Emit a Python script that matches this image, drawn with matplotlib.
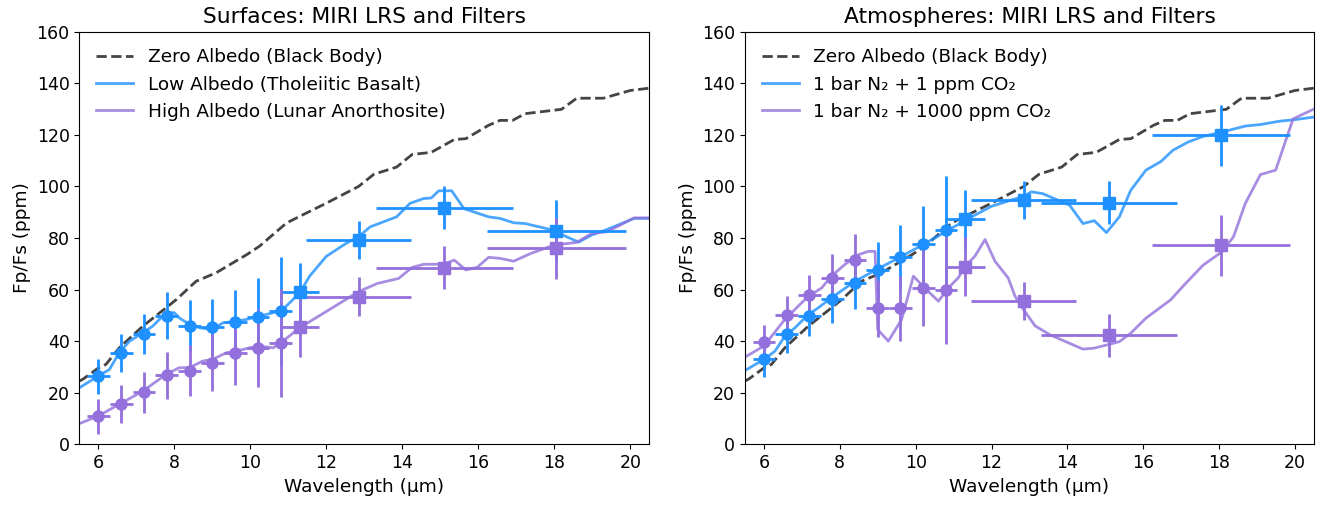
"""Surfaces vs atmospheres: simulated MIRI LRS + filter photometry of a rocky planet."""
import numpy as np
import matplotlib
matplotlib.use("Agg")
import matplotlib.pyplot as plt

# ---- model curves ----
bb_wl = [5.5, 5.6, 6.0, 6.2, 6.55, 7.17, 7.78, 8.05, 8.57, 9.1, 9.9, 10.24, 10.95, 11.3,
         12.0, 12.85, 13.25, 13.85, 14.26, 14.76, 15.37, 15.67, 16.27, 16.57, 16.9,
         17.23, 18.19, 18.59, 19.29, 20.0, 20.5]
bb_fp = [24.5, 25.3, 29.6, 31.0, 37.4, 45.8, 52.9, 56.1, 63.2, 66.5, 73.5, 76.8, 85.8, 88.4,
         93.5, 100.0, 104.7, 107.5, 112.4, 113.2, 118.2, 118.5, 123.7, 125.6, 125.6,
         128.2, 129.9, 134.2, 134.2, 137.2, 138.1]

low_wl = [5.5, 6.0, 6.29, 6.55, 6.82, 7.17, 7.43, 7.78, 8.0, 8.13, 8.4, 8.66, 9.0, 9.28,
          9.63, 9.89, 10.24, 10.6, 10.86, 11.12, 11.3, 11.56, 12.0, 12.53, 12.85, 13.15,
          13.85, 14.2, 14.56, 14.76, 14.96, 15.3, 15.62, 16.27, 16.57, 16.93, 17.23, 17.98,
          18.29, 18.64, 18.99, 19.39, 20.1, 20.5]
low_fp = [21.9, 26.5, 29.0, 35.5, 40.0, 43.2, 45.8, 51.0, 51.0, 49.0, 46.5, 45.2, 44.5, 47.1,
          47.7, 48.4, 49.7, 51.0, 52.3, 56.1, 58.7, 65.2, 72.9, 78.0, 80.5, 84.3,
          88.2, 93.4, 95.3, 95.5, 98.3, 98.3, 91.4, 88.2, 87.6, 85.9, 85.6, 83.0,
          80.7, 78.4, 81.2, 83.3, 87.6, 87.6]

high_wl = [5.5, 6.0, 6.55, 7.17, 7.78, 8.13, 8.4, 8.75, 9.0, 9.37, 9.63, 9.98, 10.24, 10.6,
           10.86, 11.3, 12.0, 12.85, 13.35, 13.9, 14.26, 14.56, 15.06, 15.37, 15.67, 15.97,
           16.27, 16.57, 16.93, 17.38, 17.98, 18.59, 18.99, 19.39, 20.1, 20.5]
high_fp = [8.0, 11.0, 15.5, 20.6, 27.1, 29.7, 29.7, 32.3, 32.9, 35.5, 36.1, 37.4, 38.1, 37.4,
           40.0, 45.2, 51.5, 59.2, 62.4, 64.3, 68.6, 69.8, 69.8, 71.4, 67.6, 68.6,
           72.5, 72.1, 71.0, 74.0, 77.2, 78.3, 81.8, 82.4, 87.8, 87.8]

ppm1_wl = [5.5, 6.0, 6.29, 6.55, 6.82, 7.17, 7.43, 7.78, 8.4, 9.0, 9.63, 10.24, 10.86, 11.3,
           12.0, 12.85, 13.05, 13.35, 13.65, 14.06, 14.41, 14.71, 15.03, 15.37, 15.67,
           16.07, 16.47, 16.78, 17.18, 17.58, 18.08, 18.69, 19.09, 19.6, 20.0, 20.5]
ppm1_fp = [28.6, 32.9, 36.1, 41.9, 45.2, 50.3, 52.9, 56.8, 63.2, 68.0, 72.9, 77.8, 83.0, 86.8,
           92.3, 96.2, 97.9, 97.2, 95.3, 92.7, 85.6, 86.7, 82.1, 88.2, 98.5,
           106.3, 109.7, 114.0, 117.2, 119.4, 121.1, 123.4, 124.0, 125.3, 125.9, 126.9]

ppm1000_wl = [5.5, 6.0, 6.55, 6.9, 7.17, 7.52, 7.78, 8.13, 8.49, 8.75, 8.93, 9.0, 9.28, 9.63,
              9.94, 10.24, 10.6, 10.86, 11.12, 11.3, 11.56, 11.83, 12.09, 12.44, 12.62,
              12.85, 13.15, 13.55, 14.41, 14.71, 15.06, 15.37, 15.67, 16.07, 16.72, 17.08,
              17.58, 18.08, 18.38, 18.69, 19.09, 19.49, 19.95, 20.5]
ppm1000_fp = [33.8, 38.1, 48.4, 53.5, 57.4, 60.6, 65.2, 69.7, 73.5, 74.8, 74.8, 44.5, 40.0, 48.4,
              65.2, 60.6, 55.5, 60.6, 64.5, 69.0, 72.9, 79.4, 71.0, 64.5, 57.4,
              52.1, 45.9, 42.4, 36.9, 37.3, 38.6, 39.8, 43.1, 48.9, 56.0, 61.8,
              69.5, 74.7, 80.5, 93.4, 104.6, 106.3, 126.2, 130.0]

# ---- simulated observations ----
lrs_wl = [6.0, 6.6, 7.2, 7.8, 8.4, 9.0, 9.6, 10.2, 10.8]
lrs_hw = 0.3
filt_wl = [11.3, 12.85, 15.1, 18.05]
filt_hw = [0.52, 1.38, 1.8, 1.83]

low_lrs = [26.3, 35.3, 42.8, 49.9, 46.0, 45.4, 47.3, 49.3, 51.8]
low_filt = [58.9, 79.2, 91.8, 82.8]
high_lrs = [10.8, 15.6, 20.2, 26.7, 28.6, 31.7, 35.3, 37.3, 39.2]
high_filt = [45.4, 57.3, 68.5, 76.0]
ppm1_lrs = [33.0, 42.8, 49.9, 56.2, 62.4, 67.6, 72.7, 77.5, 83.0]
ppm1_filt = [87.3, 94.6, 93.7, 119.8]
ppm1000_lrs = [39.5, 50.2, 57.9, 64.6, 71.4, 52.7, 52.7, 60.7, 59.8]
ppm1000_filt = [68.9, 55.7, 42.2, 77.2]

lrs_err = [6.9, 7.3, 7.9, 9.0, 10.0, 11.0, 12.5, 15.0, 21.0]
filt_err = [11.5, 7.4, 8.4, 11.8]

BLUE = "#1e90ff"
PURPLE = "#9370db"


def draw_panel(ax, curves, obs, title):
    ax.plot(bb_wl, bb_fp, "--", color="#444444", lw=2, label="Zero Albedo (Black Body)")
    for (wl, fp, color, label) in curves:
        ax.plot(wl, fp, "-", color=color, lw=2, alpha=0.8, label=label)
    for (lrs, filt, color) in obs:
        ax.errorbar(lrs_wl, lrs, xerr=lrs_hw, yerr=lrs_err, fmt="o", color=color,
                    ms=8, elinewidth=2, capsize=0)
        ax.errorbar(filt_wl, filt, xerr=filt_hw, yerr=filt_err, fmt="s", color=color,
                    ms=9, elinewidth=2, capsize=0)
    ax.set_xlim(5.5, 20.5)
    ax.set_ylim(0, 160)
    ax.set_xlabel("Wavelength (μm)", fontsize=13.3)
    ax.set_ylabel("Fp/Fs (ppm)", fontsize=13.3)
    ax.set_title(title, fontsize=15.7)
    ax.tick_params(labelsize=12.5)
    ax.legend(loc="upper left", frameon=False, fontsize=13.3)


fig = plt.figure(figsize=(13.36, 5.07), dpi=100)
axL = fig.add_axes([0.0594, 0.1237, 0.4266, 0.8138])
axR = fig.add_axes([0.5576, 0.1237, 0.4259, 0.8138])

draw_panel(axL,
           [(low_wl, low_fp, BLUE, "Low Albedo (Tholeiitic Basalt)"),
            (high_wl, high_fp, PURPLE, "High Albedo (Lunar Anorthosite)")],
           [(low_lrs, low_filt, BLUE), (high_lrs, high_filt, PURPLE)],
           "Surfaces: MIRI LRS and Filters")
draw_panel(axR,
           [(ppm1_wl, ppm1_fp, BLUE, "1 bar N₂ + 1 ppm CO₂"),
            (ppm1000_wl, ppm1000_fp, PURPLE, "1 bar N₂ + 1000 ppm CO₂")],
           [(ppm1_lrs, ppm1_filt, BLUE), (ppm1000_lrs, ppm1000_filt, PURPLE)],
           "Atmospheres: MIRI LRS and Filters")

fig.savefig("out.png", dpi=100)
